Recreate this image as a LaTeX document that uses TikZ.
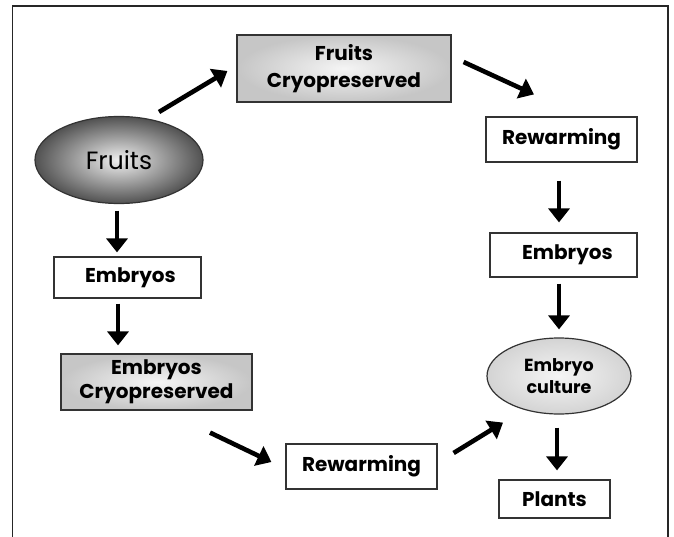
\documentclass[tikz,border=0pt]{standalone}
\usepackage{fontspec}
\setmainfont{Poppins}
\usetikzlibrary{arrows.meta,shapes.geometric}
\tikzset{
  box/.style={draw=black!80, line width=1.2pt, rectangle, inner sep=0pt, align=center, font=\fontsize{20}{27}\selectfont\bfseries},
  plainbox/.style={box, fill=white},
  graybox/.style={box, shading=radial, inner color=gray!8, outer color=gray!45},
  arr/.style={line width=4.6pt, -{Triangle[length=14pt,width=21pt]}},
}
\begin{document}
\begin{tikzpicture}[x=1pt,y=-1pt]
\useasboundingbox (0,0) rectangle (674,537);
\fill[white] (0,0) rectangle (674,537);
\draw[black!85, line width=1.6pt] (12.5,537) -- (12.5,6) -- (668,6) -- (668,537);

\node[graybox, minimum width=214pt, minimum height=67pt] (fc) at (344,68.5) {Fruits\\Cryopreserved};
\node[draw=black!80, line width=1.2pt, ellipse, minimum width=168pt, minimum height=87pt, inner sep=0pt, shading=radial, inner color=gray!12, outer color=black!68, font=\fontsize{25}{28}\selectfont] (fruits) at (119,160) {Fruits};
\node[plainbox, minimum width=151pt, minimum height=45pt] (rw1) at (561.5,139.5) {Rewarming};
\node[plainbox, minimum width=147pt, minimum height=44pt] (emb1) at (563.5,255) {\hspace{8pt}Embryos};
\node[draw=black!80, line width=1.2pt, ellipse, minimum width=144pt, minimum height=76pt, inner sep=0pt, align=center, shading=radial, inner color=gray!8, outer color=gray!34, font=\fontsize{17.5}{22}\selectfont\bfseries] (ec) at (559,376) {Embryo\\culture};
\node[plainbox, minimum width=111pt, minimum height=38pt] (plants) at (554.5,499) {Plants};
\node[plainbox, minimum width=147pt, minimum height=41pt] (emb2) at (127.5,277.5) {\hspace{6pt}Embryos};
\node[graybox, minimum width=191pt, minimum height=56pt, font=\fontsize{20}{24}\selectfont\bfseries] (ecryo) at (156.5,382) {Embryos\\Cryopreserved};
\node[plainbox, minimum width=151pt, minimum height=45pt] (rw2) at (361.5,466.5) {Rewarming};

\draw[arr] ([shift={(40,-48)}]fruits.center) -- ([shift={(-9,2.5)}]fc.west);
\draw[arr] ([shift={(12,-6.5)}]fc.east) -- ([shift={(-27.5,-22)}]rw1.north);
\draw[arr] ([shift={(-2.5,18)}]rw1.south) -- ([shift={(-4.5,-10)}]emb1.north);
\draw[arr] ([shift={(-4.5,6)}]emb1.south) -- ([shift={(0,-8)}]ec.north);
\draw[arr] ([shift={(-2,13)}]ec.south) -- ([shift={(2.5,-9)}]plants.north);
\draw[arr] ([shift={(-2,6.5)}]fruits.south) -- ([shift={(-10.5,-4)}]emb2.north);
\draw[arr] ([shift={(-9.5,5)}]emb2.south) -- ([shift={(-38.5,-8)}]ecryo.north);
\draw[arr] ([shift={(53.5,22)}]ecryo.south) -- ([shift={(-14,-4.5)}]rw2.west);
\draw[arr] ([shift={(16,-13.5)}]rw2.east) -- ([shift={(-56,8)}]ec.south);
\end{tikzpicture}
\end{document}
